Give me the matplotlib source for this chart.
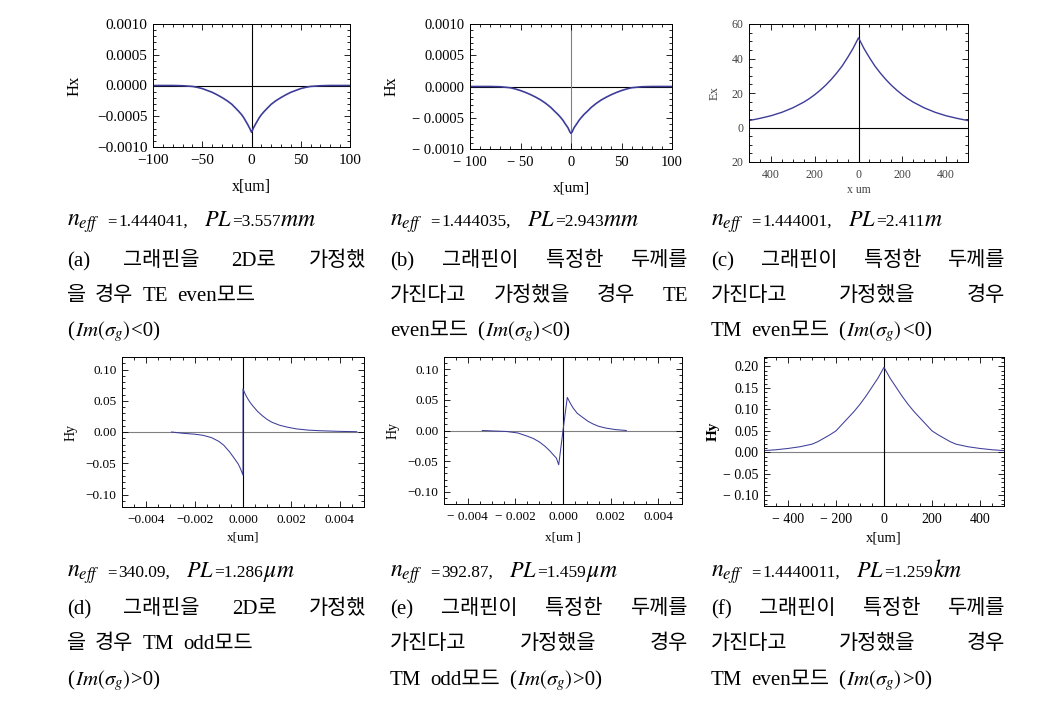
import matplotlib

matplotlib.use("Agg")
import matplotlib.pyplot as plt
from matplotlib.ticker import FixedLocator, FixedFormatter, MultipleLocator

W, H = 1052, 704
SERIF = ["Liberation Serif", "DejaVu Serif"]
KFONT = ["Liberation Serif", "Noto Sans CJK KR"]
CURVE = "#3d3d99"
GRAY = "#808080"

plt.rcParams["font.family"] = SERIF
plt.rcParams["mathtext.fontset"] = "stix"

# (a) TE even, 2D graphene
a_x = [-100, -80, -70, -60, -55, -50, -45, -40, -35, -30, -25, -20, -16, -13, -10, -8, -6, -4, -2, 0,
       2, 4, 6, 8, 10, 13, 16, 20, 25, 30, 35, 40, 45, 50, 55, 60, 70, 80, 100]
a_y = [0.0, 0.0, -0.04e-4, -0.15e-4, -0.3e-4, -0.5e-4, -0.8e-4, -1.1e-4, -1.5e-4, -1.95e-4, -2.45e-4,
       -3.05e-4, -3.7e-4, -4.2e-4, -4.75e-4, -5.2e-4, -5.75e-4, -6.3e-4, -6.9e-4, -7.6e-4,
       -6.9e-4, -6.3e-4, -5.75e-4, -5.2e-4, -4.75e-4, -4.2e-4, -3.7e-4, -3.05e-4, -2.45e-4, -1.95e-4,
       -1.5e-4, -1.1e-4, -0.8e-4, -0.5e-4, -0.3e-4, -0.15e-4, -0.04e-4, 0.0, 0.0]

# (b) TE even, thick graphene
b_x = [-100, -80, -70, -60, -55, -50, -45, -40, -35, -30, -25, -20, -16, -13, -10, -8, -6, -3, -1, 0,
       1, 3, 6, 8, 10, 13, 16, 20, 25, 30, 35, 40, 45, 50, 55, 60, 70, 80, 100]
b_y = [0.0, 0.0, -0.04e-4, -0.2e-4, -0.4e-4, -0.65e-4, -0.95e-4, -1.3e-4, -1.7e-4, -2.15e-4, -2.7e-4,
       -3.35e-4, -4.0e-4, -4.45e-4, -5.0e-4, -5.4e-4, -5.9e-4, -6.6e-4, -7.3e-4, -7.5e-4,
       -7.3e-4, -6.6e-4, -5.9e-4, -5.4e-4, -5.0e-4, -4.45e-4, -4.0e-4, -3.35e-4, -2.7e-4, -2.15e-4,
       -1.7e-4, -1.3e-4, -0.95e-4, -0.65e-4, -0.4e-4, -0.2e-4, -0.04e-4, 0.0, 0.0]

# (c) TM even, thick graphene
c_x = [-500, -450, -400, -350, -300, -250, -225, -200, -175, -150, -125, -100, -75, -50, -25, 0,
       25, 50, 75, 100, 125, 150, 175, 200, 225, 250, 300, 350, 400, 450, 500]
c_y = [4.0, 5.3, 6.8, 8.8, 11.4, 14.7, 16.7, 19.0, 21.6, 24.5, 27.8, 31.5, 35.6, 40.5, 45.8, 52.0,
       45.8, 40.5, 35.6, 31.5, 27.8, 24.5, 21.6, 19.0, 16.7, 14.7, 11.4, 8.8, 6.8, 5.3, 4.0]

# (d) TM odd, 2D graphene
d_x = [-0.00295, -0.0025, -0.002, -0.00165, -0.0013, -0.001, -0.0008, -0.00055, -0.0004, -0.0002,
       -0.0001, 0.0, 0.0, 0.0001, 0.0002, 0.0003, 0.0004, 0.0006, 0.0008, 0.001, 0.0012, 0.0015,
       0.0018, 0.0022, 0.0027, 0.0032, 0.004, 0.0047]
d_y = [0.0, -0.002, -0.0035, -0.0053, -0.009, -0.015, -0.021, -0.032, -0.040, -0.051,
       -0.059, -0.069, 0.069, 0.060, 0.053, 0.047, 0.042, 0.033, 0.026, 0.020, 0.0155, 0.011,
       0.008, 0.005, 0.003, 0.002, 0.001, 0.0005]

# (e) TM odd, thick graphene
e_x = [-0.00339, -0.0029, -0.00238, -0.0019, -0.00154, -0.00125, -0.00098, -0.00075, -0.00056,
       -0.0004, -0.00028, -0.00018, 0.0, 0.00018, 0.0003, 0.00042, 0.0006, 0.00084, 0.00105,
       0.00126, 0.0015, 0.00182, 0.0022, 0.00266]
e_y = [0.0, -0.0008, -0.0016, -0.004, -0.0087, -0.013, -0.019, -0.026, -0.033,
       -0.040, -0.045, -0.056, 0.0, 0.054, 0.045, 0.037, 0.028, 0.021, 0.015,
       0.0107, 0.0068, 0.0038, 0.0015, 0.0]

# (f) TM even, thick graphene, Im(sigma) > 0
f_x = [-500, -450, -400, -350, -300, -275, -250, -225, -200, -175, -150, -125, -100, -75, -50, -25, 0,
       25, 50, 75, 100, 125, 150, 175, 200, 225, 250, 275, 300, 350, 400, 450, 500]
f_y = [0.004, 0.006, 0.009, 0.013, 0.019, 0.025, 0.033, 0.041, 0.050, 0.065, 0.080, 0.095, 0.112,
       0.131, 0.152, 0.173, 0.198,
       0.173, 0.152, 0.131, 0.112, 0.095, 0.080, 0.065, 0.050, 0.041, 0.033, 0.025, 0.019, 0.013,
       0.009, 0.006, 0.004]

# tick labels as printed
ab_yt = [-0.001, -0.0005, 0.0, 0.0005, 0.001]
a_ylab = ["\u22120.0010", "\u22120.0005", "0.0000", "0.0005", "0.0010"]
b_ylab = ["\u2212 0.0010", "\u2212 0.0005", "0.0000", "0.0005", "0.0010"]
ab_xt = [-100, -50, 0, 50, 100]
a_xlab = ["\u2212100", "\u221250", "0", "50", "100"]
b_xlab = ["\u2212 100", "\u2212 50", "0", "50", "100"]
c_xt = [-400, -200, 0, 200, 400]
c_xlab = ["400", "200", "0", "200", "400"]
c_yt = [-20, 0, 20, 40, 60]
c_ylab = ["20", "0", "20", "40", "60"]
de_xt = [-0.004, -0.002, 0.0, 0.002, 0.004]
d_xlab = ["\u22120.004", "\u22120.002", "0.000", "0.002", "0.004"]
e_xlab = ["\u2212 0.004", "\u2212 0.002", "0.000", "0.002", "0.004"]
de_yt = [-0.1, -0.05, 0.0, 0.05, 0.1]
de_ylab = ["\u22120.10", "\u22120.05", "0.00", "0.05", "0.10"]
f_xt = [-400, -200, 0, 200, 400]
f_xlab = ["\u2212 400", "\u2212 200", "0", "200", "400"]
f_yt = [-0.1, -0.05, 0.0, 0.05, 0.1, 0.15, 0.2]
f_ylab = ["\u2212 0.10", "\u2212 0.05", "0.00", "0.05", "0.10", "0.15", "0.20"]

# captions
neff_vals = ["1.444041", "1.444035", "1.444001", "340.09", "392.87", "1.4440011"]
pl_vals = ["3.557", "2.943", "2.411", "1.286", "1.459", "1.259"]
pl_units = [r"$mm$", r"$mm$", r"$m$", r"$\mu m$", r"$\mu m$", r"$km$"]
cap_first = ["(a) 그래핀을 2D로 가정했", "(b) 그래핀이 특정한 두께를", "(c) 그래핀이 특정한 두께를",
             "(d) 그래핀을 2D로 가정했", "(e) 그래핀이 특정한 두께를", "(f) 그래핀이 특정한 두께를"]
cap_second = ["을 경우 TE even모드", "가진다고 가정했을 경우 TE", "가진다고 가정했을 경우",
              "을 경우 TM odd모드", "가진다고 가정했을 경우", "가진다고 가정했을 경우"]
cap_second_just = [False, True, True, False, True, True]
cap_third_pre = ["", "even모드", "TM even모드", "", "TM odd모드", "TM even모드"]
cap_sign = ["<", "<", "<", ">", ">", ">"]

fig = plt.figure(figsize=(W / 100, H / 100), dpi=100)

panels = [
    dict(box=(153, 350, 24, 147), x=a_x, y=a_y, xlim=(-100, 100), ylim=(-0.001, 0.001),
         xt=ab_xt, xl=a_xlab, yt=ab_yt, yl=a_ylab, xmin=10, ymin=0.0001, fs=11, lfs=11.5,
         xlabel="x[um]", ylabel="Hx", ylx=75, xly=187, hcol="black", vcol="black", lw=1.2,
         tcol="black", yweight="normal"),
    dict(box=(470, 672, 24, 149), x=b_x, y=b_y, xlim=(-100, 100), ylim=(-0.001, 0.001),
         xt=ab_xt, xl=b_xlab, yt=ab_yt, yl=b_ylab, xmin=10, ymin=0.0001, fs=10.5, lfs=11,
         xlabel="x[um]", ylabel="Hx", ylx=392, xly=188, hcol="black", vcol=GRAY, lw=1.2,
         tcol="black", yweight="normal"),
    dict(box=(749, 968, 24, 162), x=c_x, y=c_y, xlim=(-500, 500), ylim=(-20, 60),
         xt=c_xt, xl=c_xlab, yt=c_yt, yl=c_ylab, xmin=50, ymin=5, fs=8.5, lfs=8.5,
         xlabel="x um", ylabel="Ex", ylx=715, xly=190, hcol="black", vcol="black", lw=1.0,
         tcol="#444444", yweight="normal"),
    dict(box=(122, 364, 357, 507), x=d_x, y=d_y, xlim=(-0.005, 0.005), ylim=(-0.12, 0.12),
         xt=de_xt, xl=d_xlab, yt=de_yt, yl=de_ylab, xmin=0.0005, ymin=0.01, fs=9.5, lfs=9.5,
         xlabel="x[um]", ylabel="Hy", ylx=71, xly=537, hcol=GRAY, vcol="black", lw=0.75,
         tcol="black", yweight="normal"),
    dict(box=(444, 682, 357, 504), x=e_x, y=e_y, xlim=(-0.005, 0.005), ylim=(-0.12, 0.12),
         xt=de_xt, xl=e_xlab, yt=de_yt, yl=de_ylab, xmin=0.0005, ymin=0.01, fs=9.5, lfs=9.5,
         xlabel="x[um ]", ylabel="Hy", ylx=393, xly=538, hcol=GRAY, vcol="black", lw=0.75,
         tcol="black", yweight="normal"),
    dict(box=(764, 1004, 357, 506), x=f_x, y=f_y, xlim=(-500, 500), ylim=(-0.125, 0.222),
         xt=f_xt, xl=f_xlab, yt=f_yt, yl=f_ylab, xmin=50, ymin=0.01, fs=10, lfs=10.5,
         xlabel="x[um]", ylabel="Hy", ylx=713, xly=538, hcol=GRAY, vcol="black", lw=0.75,
         tcol="black", yweight="bold"),
]

for p in panels:
    left, right, top, bottom = p["box"]
    ax = fig.add_axes([left / W, 1 - bottom / H, (right - left) / W, (bottom - top) / H])
    ax.axhline(0, color=p["hcol"], lw=0.8, zorder=1)
    ax.axvline(0, color=p["vcol"], lw=0.8, zorder=1)
    ax.plot(p["x"], p["y"], color=CURVE, lw=p["lw"], zorder=2)
    ax.set_xlim(*p["xlim"])
    ax.set_ylim(*p["ylim"])
    ax.xaxis.set_major_locator(FixedLocator(p["xt"]))
    ax.xaxis.set_major_formatter(FixedFormatter(p["xl"]))
    ax.yaxis.set_major_locator(FixedLocator(p["yt"]))
    ax.yaxis.set_major_formatter(FixedFormatter(p["yl"]))
    ax.xaxis.set_minor_locator(MultipleLocator(p["xmin"]))
    ax.yaxis.set_minor_locator(MultipleLocator(p["ymin"]))
    ax.tick_params(which="both", direction="in", top=True, right=True, width=0.6,
                   labelsize=p["fs"], labelcolor=p["tcol"])
    ax.tick_params(which="major", length=4.5)
    ax.tick_params(which="minor", length=2.2)
    ax.tick_params(axis="x", pad=5)
    ax.tick_params(axis="y", pad=4)
    for s in ax.spines.values():
        s.set_linewidth(0.7)
    ax.set_xlabel(p["xlabel"], fontsize=p["lfs"], color=p["tcol"])
    ax.set_ylabel(p["ylabel"], fontsize=p["lfs"] + 0.5, color=p["tcol"], fontweight=p["yweight"])
    ax.xaxis.label.set_va("center")
    ax.yaxis.label.set_va("center")
    ax.xaxis.set_label_coords(0.5, (bottom - p["xly"]) / (bottom - top))
    ax.yaxis.set_label_coords((p["ylx"] - left) / (right - left), 0.5)

renderer = fig.canvas.get_renderer()


def put(x, y, s, size):
    t = fig.text(x / W, 1 - y / H, s, fontsize=size, va="baseline", ha="left", family=KFONT)
    return t, t.get_window_extent(renderer).width


def justified(x0, x1, y, line, size):
    items = [put(x0, y, w, size) for w in line.split(" ")]
    gap = (x1 - x0 - sum(w for _, w in items)) / (len(items) - 1)
    x = x0
    for t, w in items:
        t.set_x(x / W)
        x += w + gap


def chunks(x0, y, parts):
    x = x0
    for s, size, extra in parts:
        if not s:
            continue
        _, w = put(x, y, s, size)
        x += w + extra


cols = [(67, 366), (390, 688), (711, 1005)]
rows = [(226, 266, 301, 336), (577, 614, 649, 685)]
KSIZE = 15
WGAP = 9

for i in range(6):
    x0, x1 = cols[i % 3]
    y0, y1, y2, y3 = rows[i // 3]
    chunks(x0, y0, [(r"$n_{eff}$", 17, 7), ("=", 12, 2), (neff_vals[i] + ",", 12.5, 16),
                    (r"$PL$", 16, 0), ("=" + pl_vals[i], 12.5, 0), (pl_units[i], 17, 0)])
    justified(x0, x1, y1, cap_first[i], KSIZE)
    if cap_second_just[i]:
        justified(x0, x1, y2, cap_second[i], KSIZE)
    else:
        chunks(x0, y2, [(w, KSIZE, WGAP) for w in cap_second[i].split(" ")])
    chunks(x0, y3, [(w, KSIZE, WGAP) for w in cap_third_pre[i].split(" ") if w]
           + [("(", KSIZE, 1), (r"$Im(\sigma_g)$", KSIZE, 1), (cap_sign[i] + "0)", KSIZE, 0)])

fig.savefig("out.png", dpi=100)
